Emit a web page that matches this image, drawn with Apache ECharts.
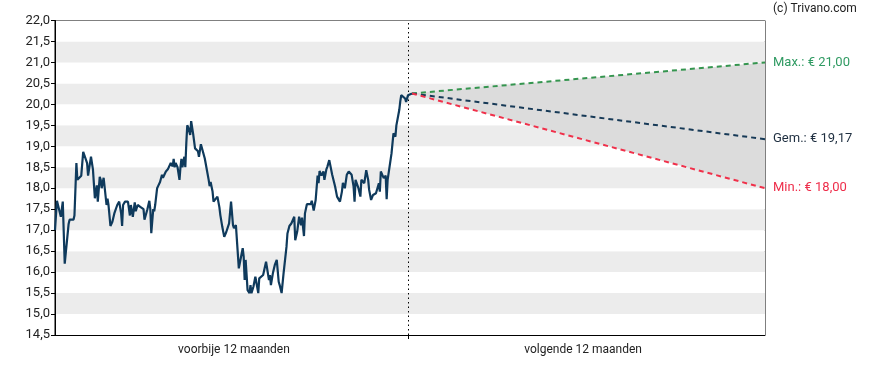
<!DOCTYPE html>
<html>
<head>
<meta charset="utf-8">
<script src="https://cdn.jsdelivr.net/npm/echarts@6/dist/echarts.min.js"></script>
<style>
html,body{margin:0;padding:0;background:#fff;}
#chart{width:888px;height:370px;}
</style>
</head>
<body>
<div id="chart"></div>
<script>
// ---- data ----
const pastDays = [0,2,4,6,8,9,10,12,14,15,19,20,22,23,25,27,29,31,33,34,37,38,39,40,41,43,44,46,47,48,50,52,53,54,55,57,58,59,61,62,64,66,68,69,70,72,74,75,77,78,80,82,83,85,86,88,90,91,92,94,95,97,98,99,100,101,102,103,105,106,108,110,111,113,114,116,118,119,121,122,123,124,126,128,129,130,131,133,134,135,136,137,139,140,141,142,144,146,147,148,150,152,154,156,158,159,160,162,163,165,167,169,170,172,174,176,177,179,181,182,183,184,186,188,189,191,193,194,195,196,197,198,200,201,202,204,206,207,209,210,212,214,215,217,218,220,221,222,224,226,228,230,231,233,235,236,238,239,241,243,244,246,247,249,251,253,254,256,257,259,261,263,264,266,268,270,271,272,274,276,277,279,280,282,283,285,287,288,290,291,293,295,296,298,300,302,303,305,307,308,309,311,312,314,315,317,318,320,322,323,325,327,328,330,332,333,334,335,337,338,340,341,342,344,346,348,350,351,353,354,355,356,358,360,361,363,365,367];
const pastPrices = [17.0,17.7,17.7,17.32,17.68,17.68,16.2,16.2,17.15,17.25,17.25,17.35,18.6,18.2,18.2,18.3,18.87,18.85,18.6,18.3,18.75,18.75,18.45,18.45,17.76,18.07,17.68,18.27,18.2,18.0,18.25,18.25,17.6,17.75,17.6,17.1,17.1,17.2,17.4,17.38,17.6,17.68,17.4,17.1,17.6,17.68,17.68,17.68,17.35,17.6,17.32,17.66,17.45,17.6,17.58,17.55,17.55,17.5,17.25,17.28,17.5,17.7,17.5,16.93,16.93,17.5,17.45,17.6,18.0,18.05,18.15,18.32,18.25,18.28,18.4,18.45,18.48,18.6,18.52,18.7,18.5,18.6,18.5,18.2,18.5,18.7,18.5,18.75,18.5,19.07,19.5,19.45,19.27,19.6,19.6,19.3,18.95,18.95,18.88,18.75,19.05,19.07,18.71,18.71,18.2,18.05,18.15,17.92,17.68,17.7,17.8,17.55,17.36,17.08,16.84,16.95,16.97,17.16,17.68,17.64,17.12,17.05,17.12,17.12,16.09,16.33,16.57,16.37,15.81,16.29,16.29,15.57,15.5,15.69,15.5,15.65,15.89,15.93,15.5,15.85,15.89,15.93,15.97,16.25,16.25,15.81,15.93,15.69,15.97,16.17,16.29,15.77,15.69,15.5,15.97,15.97,16.6,16.92,17.1,17.16,17.14,17.32,16.76,16.96,17.32,17.12,17.3,16.86,17.4,17.62,17.65,17.62,17.7,17.47,17.72,18.3,18.12,18.41,18.3,18.4,18.2,18.45,18.51,18.67,18.63,18.32,18.32,18.04,17.8,17.8,17.68,17.92,18.13,18.0,18.32,18.4,18.4,18.32,18.04,17.68,18.2,18.2,18.0,17.8,18.2,18.24,18.12,18.43,18.2,17.96,17.72,17.84,17.86,17.88,17.92,18.12,17.92,18.4,18.38,18.24,18.3,17.74,18.2,18.18,18.83,19.31,19.23,19.5,19.54,19.87,20.07,20.22,20.25,20.14,20.06,20.22,20.26,20.26];
const forecastDays = [367, 730];
const maxTarget = [20.26, 21.00];
const avgTarget = [20.26, 19.17];
const minTarget = [20.26, 18.00];
const todayDay = 363;
const periodLabels = ['voorbije 12 maanden', 'volgende 12 maanden'];
const periodLabelDays = [184, 543];
const targetNames = ['Max.', 'Gem.', 'Min.'];
const yTicks = {min: 14.5, max: 22.0, interval: 0.5};
const copyright = '(c) Trivano.com';

// ---- build ----
const FONT = 'Roboto, "Noto Sans", sans-serif';
const pair = (xs, ys) => xs.map((x, i) => [x, ys[i]]);
const fmtNum = (v, d) => v.toFixed(d).replace('.', ',');
const bandData = forecastDays.map((d, i) => [d, minTarget[i], maxTarget[i]]);

function targetSeries(name, ys, color, labelColor) {
  return {
    type: 'line', name: name, data: pair(forecastDays, ys),
    showSymbol: false, silent: true, z: 4,
    lineStyle: {color: color, width: 2, type: [5, 4]},
    endLabel: {
      show: true, distance: 8, color: labelColor,
      fontFamily: FONT, fontSize: 13,
      formatter: p => name + ': € ' + fmtNum(p.value[1], 2)
    }
  };
}

const chart = echarts.init(document.getElementById('chart'), null, {renderer: 'canvas'});
chart.setOption({
  animation: false,
  title: {
    text: copyright, left: 773, top: 3, padding: 0,
    textStyle: {fontFamily: FONT, fontSize: 12, fontWeight: 'normal', color: '#222'}
  },
  grid: {left: 55, right: 123, top: 20.5, bottom: 35, show: true, borderColor: '#000', borderWidth: 1, backgroundColor: 'transparent'},
  xAxis: {
    type: 'value', min: 0, max: 730,
    axisLine: {lineStyle: {color: '#000', width: 1}},
    axisTick: {show: true, length: 4, customValues: [todayDay], lineStyle: {color: '#000'}},
    axisLabel: {
      show: true, customValues: periodLabelDays, margin: 9,
      fontFamily: FONT, fontSize: 12, color: '#222',
      formatter: v => periodLabels[periodLabelDays.indexOf(v)] || ''
    },
    splitLine: {show: false}
  },
  yAxis: {
    type: 'value', min: yTicks.min, max: yTicks.max, interval: yTicks.interval,
    axisLine: {show: true, lineStyle: {color: '#000', width: 1}},
    axisTick: {show: true, length: 4, lineStyle: {color: '#000'}},
    axisLabel: {fontFamily: FONT, fontSize: 13, color: '#222', margin: 5, formatter: v => fmtNum(v, 1)},
    splitLine: {show: false},
    splitArea: {show: true, areaStyle: {color: ['#ffffff', '#ececec']}}
  },
  series: [
    {
      type: 'custom', name: 'band', data: bandData, silent: true, z: 1,
      encode: {x: 0, y: [1, 2]},
      renderItem: (params, api) => {
        if (params.dataIndex !== 0) return null;
        const top = bandData.map(r => api.coord([r[0], r[2]]));
        const bottom = bandData.slice().reverse().map(r => api.coord([r[0], r[1]]));
        return {
          type: 'polygon',
          shape: {points: top.concat(bottom)},
          style: {fill: '#dcdcdc', stroke: null}
        };
      }
    },
    targetSeries(targetNames[0], maxTarget, '#35954f', '#2f9a62'),
    targetSeries(targetNames[1], avgTarget, '#173a57', '#1f2f40'),
    targetSeries(targetNames[2], minTarget, '#f0304a', '#ee2d4a'),
    {
      type: 'line', name: 'koers', data: pair(pastDays, pastPrices),
      showSymbol: false, z: 5,
      lineStyle: {color: '#0f3a5c', width: 2.2},
      markLine: {
        silent: true, symbol: ['none', 'none'], label: {show: false},
        lineStyle: {color: '#000', width: 1, type: [1.5, 3]},
        data: [{xAxis: todayDay}]
      }
    }
  ]
});
</script>
</body>
</html>
